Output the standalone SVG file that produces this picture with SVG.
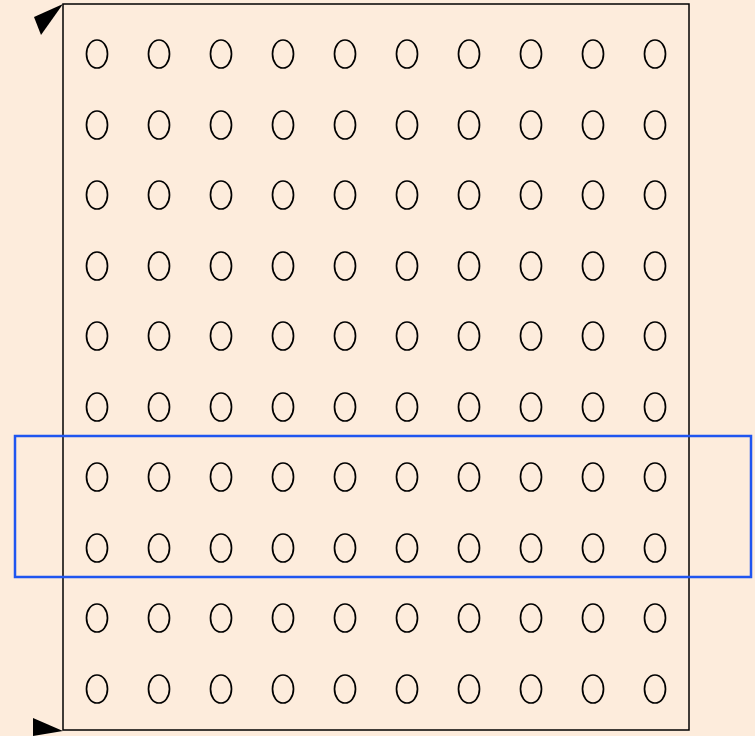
<svg xmlns="http://www.w3.org/2000/svg" width="755" height="736" viewBox="0 0 755 736">
<style>
.c{fill:none;stroke:#000;stroke-width:1.7}
.f{fill:none;stroke:#000;stroke-width:1.5}
.sel{fill:none;stroke:#1f55f0;stroke-width:2.5}
</style>
<defs>
<ellipse id="o" cx="0" cy="0" rx="10.5" ry="14" class="c"/>
<g id="row">
<use href="#o" x="97"/><use href="#o" x="159"/><use href="#o" x="221"/><use href="#o" x="283"/><use href="#o" x="345"/>
<use href="#o" x="407"/><use href="#o" x="469"/><use href="#o" x="531"/><use href="#o" x="593"/><use href="#o" x="655"/>
</g>
</defs>
<rect width="755" height="736" fill="#fdecdc"/>
<g id="frame">
<rect x="63" y="4" width="626" height="726" class="f"/>
</g>
<g id="connectors">
<polygon points="63,4 34,17 41,35" fill="#000"/>
<polygon points="63,731 33,718 33,736" fill="#000"/>
</g>
<g id="grid">
<use href="#row" y="54"/>
<use href="#row" y="125"/>
<use href="#row" y="195"/>
<use href="#row" y="266"/>
<use href="#row" y="336"/>
<use href="#row" y="407"/>
<use href="#row" y="477"/>
<use href="#row" y="548"/>
<use href="#row" y="618"/>
<use href="#row" y="689"/>
</g>
<g id="selection">
<rect x="15" y="436" width="736" height="141" class="sel"/>
</g>
</svg>
